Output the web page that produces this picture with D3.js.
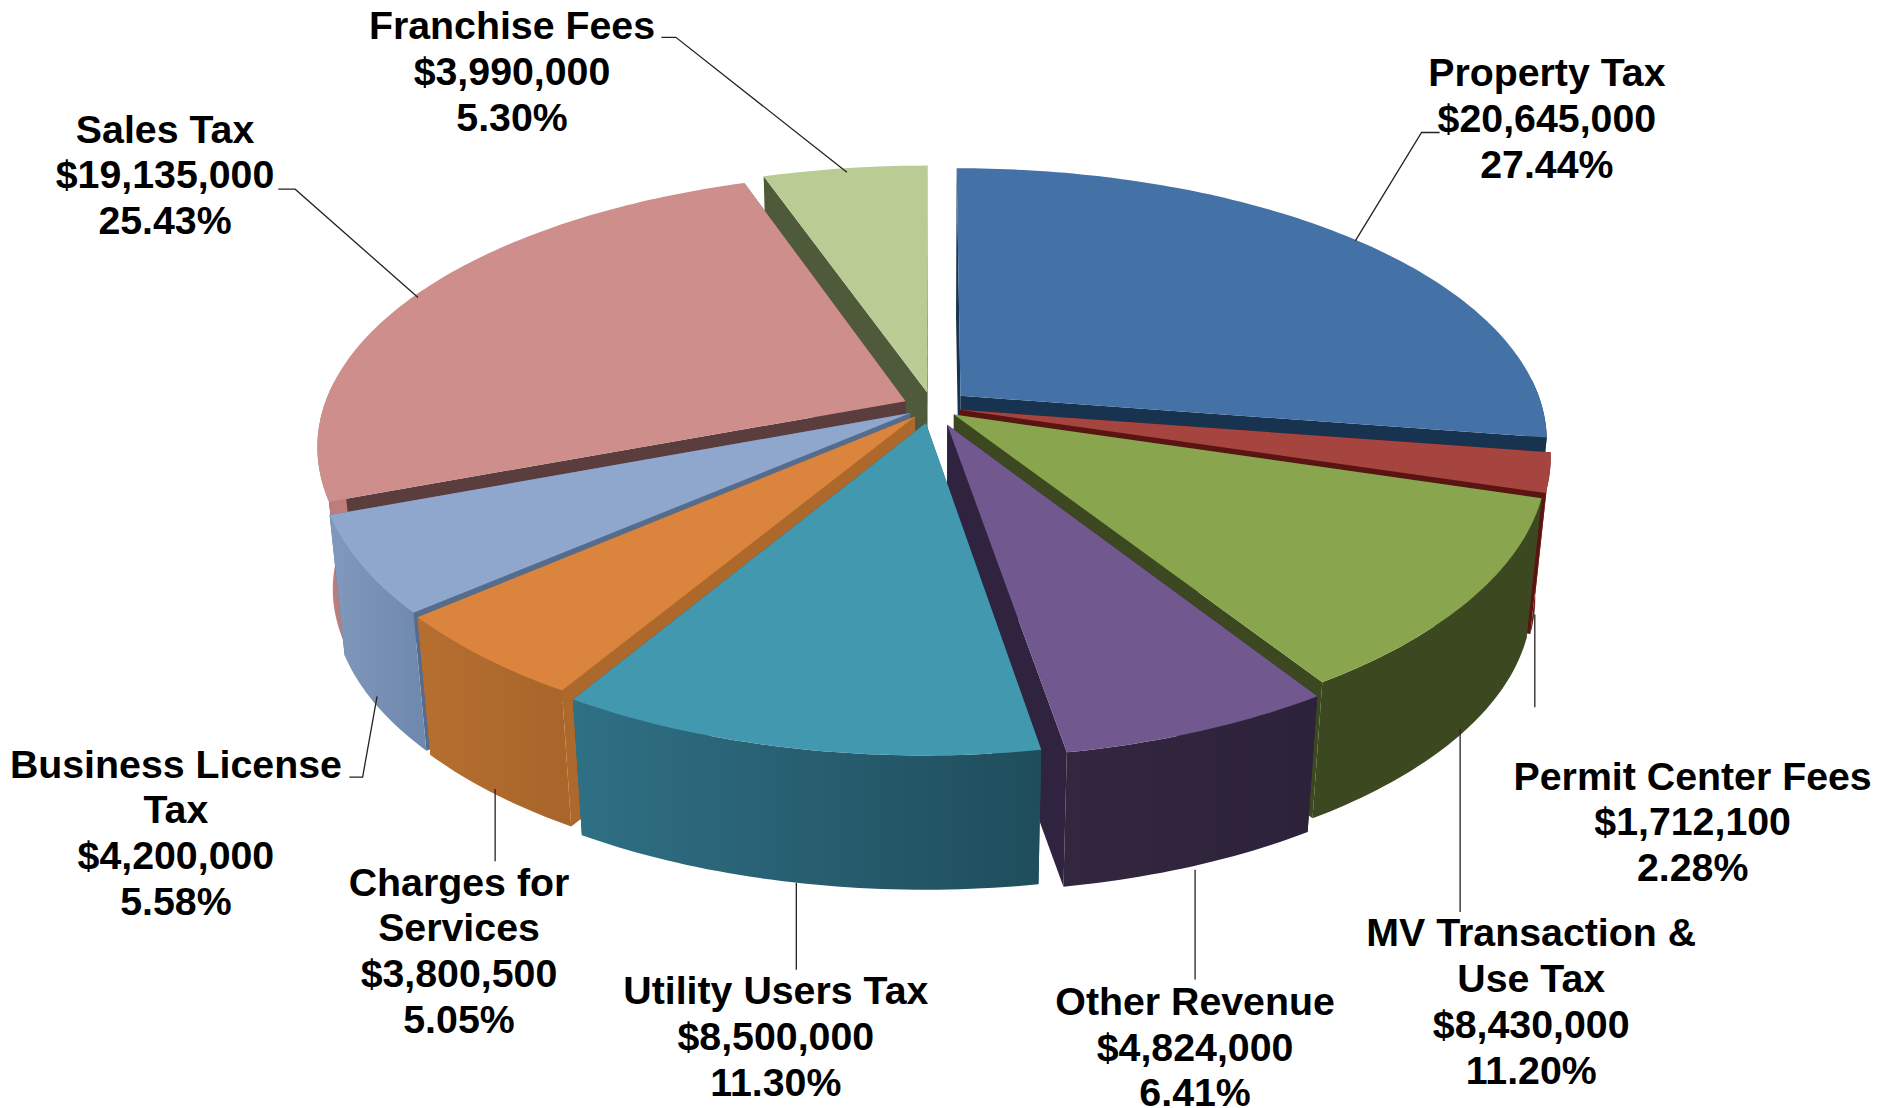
<!DOCTYPE html>
<html>
<head>
<meta charset="utf-8">
<script src="https://cdn.jsdelivr.net/npm/d3@7"></script>
<style>
  html, body { margin: 0; padding: 0; background: #fff; }
  text { font-family: "Liberation Sans", Arial, sans-serif; font-weight: bold; fill: #000; }
</style>
</head>
<body>
<svg id="chart" width="1889" height="1108"></svg>
<script>
// values, clockwise from 12 o'clock
const categories = ['Property Tax', 'Permit Center Fees', 'MV Transaction & Use Tax', 'Other Revenue',
  'Utility Users Tax', 'Charges for Services', 'Business License Tax', 'Sales Tax', 'Franchise Fees'];
const amounts = [20645000, 1712100, 8430000, 4824000, 8500000, 3800500, 4200000, 19135000, 3990000];
const percents = ['27.44%', '2.28%', '11.20%', '6.41%', '11.30%', '5.05%', '5.58%', '25.43%', '5.30%'];
const amountLabels = ['$20,645,000', '$1,712,100', '$8,430,000', '$4,824,000', '$8,500,000', '$3,800,500',
  '$4,200,000', '$19,135,000', '$3,990,000'];
const nameLines = [['Property Tax'], ['Permit Center Fees'], ['MV Transaction &', 'Use Tax'], ['Other Revenue'],
  ['Utility Users Tax'], ['Charges for', 'Services'], ['Business License', 'Tax'], ['Sales Tax'], ['Franchise Fees']];

const topColors = ['#4472a6', '#a6443f', '#89a54e', '#71588f', '#4198af', '#db843d', '#8fa6cd', '#cd8e8c', '#b8cc94'];
const cutColors = ['#17334f', '#5a1512', '#3c481f', '#2f2340', '#255c6c', '#ad692b', '#566c8c', '#5c3d3e', '#4f5a3a'];
const wallLeft = ['#17334f', '#6e1f1b', '#3c481f', '#33273f', '#2f7085', '#b66f30', '#8199bd', '#b5756f', '#8a9a6e'];
const wallRight = ['#17334f', '#6e1f1b', '#3c481f', '#2c2239', '#1f4d5c', '#a9652a', '#7089ae', '#bd7e7b', '#8a9a6e'];

// how far each slice is pulled out of the pie
const explodeBy = [0.064, 0.0475, 0.046, 0.07, 0.06, 0.046, 0.044, 0.051, 0.056];

// label centre x and first line centre y, in the shrunk picture's units
const labelX = [1284, 1405, 1271, 992, 644, 381, 146, 137, 425];
const labelY = [60, 644, 774, 831, 822, 732, 634, 107, 21];
const leaders = [
  [[1195, 110], [1180, 110], [1125, 200]],
  [[1274, 510], [1274, 587]],
  [[1212, 605], [1212, 757]],
  [[992, 722], [992, 813]],
  [[661, 733], [661, 805]],
  [[411, 655], [411, 715]],
  [[290, 645], [301, 645], [313, 578]],
  [[231, 157], [245, 157], [347, 247]],
  [[549, 31], [561, 31], [703, 143]]
];

const k = 1889 / 1568;
const fontSize = 39.3;
const lineStep = 38 * k;

// disc projection: u to the right, v to the back
const perspX = 0.16;
const perspY = 0.17;
const thickness = 143;
const bottomScale = 0.975;
const backLimit = 0.08; // wall further back than this is never seen
const xScale = d3.scaleLinear().domain([-1, 1]).range([932.4 - 582, 932.4 + 582]);
const yScale = d3.scaleLinear().domain([-1, 1]).range([407 + 269.8, 407 - 269.8]);

function project(u, v) {
  return [xScale(u / (1 + perspX * v)), yScale(v / (1 + perspY * v))];
}
function projectBottom(u, v) {
  const p = project(u, v);
  const cx = xScale(0), cy = yScale(0);
  return [cx + bottomScale * (p[0] - cx), cy + bottomScale * (p[1] - cy) + thickness];
}

const svg = d3.select('#chart');
const defs = svg.append('defs');
const line = d3.line().curve(d3.curveLinear);

const pie = d3.pie().sort(null)(amounts);

const slices = pie.map((d, i) => {
  const mid = (d.startAngle + d.endAngle) / 2;
  const ox = explodeBy[i] * Math.sin(mid), oy = explodeBy[i] * Math.cos(mid);
  const steps = d3.range(0, 1.0001, 1 / Math.max(4, Math.round((d.endAngle - d.startAngle) * 60)));
  const rim = steps.map(t => {
    const a = d.startAngle + t * (d.endAngle - d.startAngle);
    return { x: ox + Math.sin(a), y: oy + Math.cos(a), front: Math.cos(a) < backLimit };
  });
  return { i, ox, oy, rim, depth: Math.cos(mid) };
});

// back to front
slices.sort((a, b) => b.depth - a.depth).forEach(s => {
  const g = svg.append('g');
  const apexTop = project(s.ox, s.oy);
  const apexBot = projectBottom(s.ox, s.oy);
  const rimTop = s.rim.map(p => project(p.x, p.y));
  const last = s.rim.length - 1;

  [0, last].forEach(e => {
    g.append('path')
      .attr('d', line([apexTop, rimTop[e], projectBottom(s.rim[e].x, s.rim[e].y), apexBot]) + 'Z')
      .attr('fill', cutColors[s.i]);
  });

  const frontRim = s.rim.filter(p => p.front);
  if (frontRim.length > 1) {
    const wallTop = frontRim.map(p => project(p.x, p.y));
    const wallBot = frontRim.map(p => projectBottom(p.x, p.y));
    const grad = defs.append('linearGradient')
      .attr('id', 'wall' + s.i)
      .attr('gradientUnits', 'userSpaceOnUse')
      .attr('x1', d3.min(wallTop, p => p[0])).attr('x2', d3.max(wallTop, p => p[0]))
      .attr('y1', 0).attr('y2', 0);
    grad.append('stop').attr('offset', 0).attr('stop-color', wallLeft[s.i]);
    grad.append('stop').attr('offset', 1).attr('stop-color', wallRight[s.i]);

    g.append('path')
      .attr('d', line(wallTop.concat(wallBot.reverse())) + 'Z')
      .attr('fill', `url(#wall${s.i})`);
  }

  g.append('path')
    .attr('d', line([apexTop].concat(rimTop)) + 'Z')
    .attr('fill', topColors[s.i]);
});

// leader lines
svg.append('g').selectAll('path').data(leaders).join('path')
  .attr('d', d => line(d.map(p => [p[0] * k, p[1] * k])))
  .attr('fill', 'none')
  .attr('stroke', '#222')
  .attr('stroke-width', 1.3);

// labels
categories.forEach((c, i) => {
  const lines = nameLines[i].concat([amountLabels[i], percents[i]]);
  svg.append('text')
    .attr('font-size', fontSize)
    .attr('text-anchor', 'middle')
    .selectAll('tspan').data(lines).join('tspan')
    .attr('x', labelX[i] * k)
    .attr('y', (d, j) => labelY[i] * k + j * lineStep)
    .attr('dy', '0.35em')
    .text(d => d);
});
</script>
</body>
</html>
